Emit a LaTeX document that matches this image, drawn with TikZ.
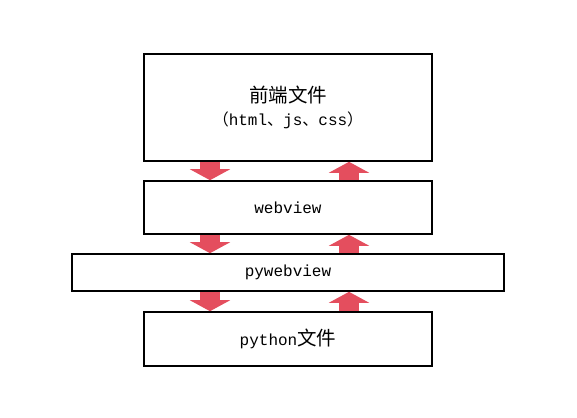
\documentclass[tikz,border=0pt]{standalone}
\usepackage{fontspec}
\setmainfont{Liberation Mono}
\newfontfamily\cjk{Noto Sans CJK SC}
\usetikzlibrary{arrows.meta}
\definecolor{freccia}{RGB}{228,78,94}
\begin{document}
\begin{tikzpicture}[x=1pt, y=-1pt,
  box/.style={draw, line width=1.6pt, minimum width=288pt, inner sep=0pt,
    font=\fontsize{16}{22}\selectfont, align=center},
  passo/.style={draw=freccia, line width=20pt,
    -{Triangle[width=40pt, length=11pt, fill=freccia]}}]

\useasboundingbox (0,0) rectangle (577,417);

% Livelli
\node[box, minimum height=107pt] (frontend) at (288,107.5)
  {{\cjk\fontsize{19.5}{22}\selectfont 前端文件}\\[1pt]
   {\cjk （}html{\cjk 、}js{\cjk 、}css{\cjk ）}};
\node[box, minimum height=53pt] (webview) at (288,207.5) {webview};
\node[box, minimum width=432pt, minimum height=37pt] (pywebview) at (288,272.5) {pywebview};
\node[box, minimum height=54pt] (python) at (288,339)
  {python{\cjk\fontsize{19.5}{22}\selectfont 文件}};

% Colonne delle frecce
\coordinate (giu) at (210,0);
\coordinate (su) at (349,0);

% Frecce verso il basso
\draw[passo] (frontend.south -| giu) -- (webview.north -| giu);
\draw[passo] (webview.south -| giu) -- (pywebview.north -| giu);
\draw[passo] (pywebview.south -| giu) -- (python.north -| giu);

% Frecce verso l'alto
\draw[passo] (webview.north -| su) -- (frontend.south -| su);
\draw[passo] (pywebview.north -| su) -- (webview.south -| su);
\draw[passo] (python.north -| su) -- (pywebview.south -| su);

\end{tikzpicture}
\end{document}
